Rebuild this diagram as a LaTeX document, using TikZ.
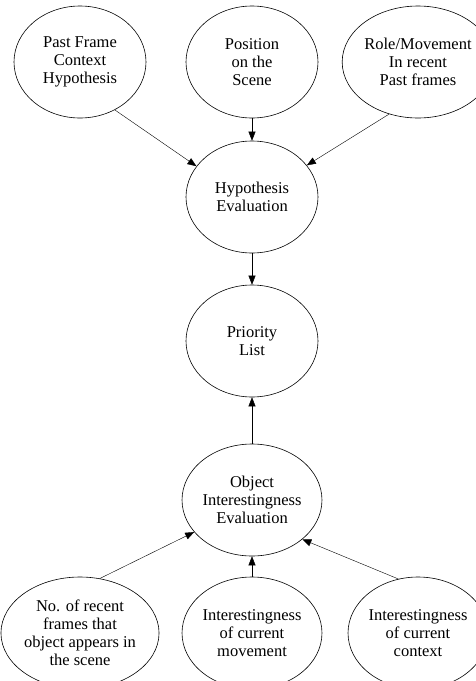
\documentclass[tikz,border=0pt]{standalone}
\usepackage{fontspec}
\setmainfont{Liberation Serif}
\usetikzlibrary{shapes.geometric,positioning,arrows.meta}
\tikzset{
x=1pt, y=-1pt,
->,
>={Triangle[length=9pt,width=7pt]},
line width=0.8pt,
factor/.style={ellipse, draw, line width=0.6pt, minimum width=132pt,
  minimum height=112pt, inner sep=0pt, align=center,
  font=\fontsize{16.5}{18}\selectfont},
}

\begin{document}
\begin{tikzpicture}
    \useasboundingbox[fill=white] (0,0) rectangle (476,681);

    \node[factor] (hyp) at (252,197) {Hypothesis\\Evaluation};
    \node[factor,above of=hyp,node distance=135pt] (pos) {Position\\on the\\Scene};
    \node[factor,left of=pos,node distance=172pt] (past) {Past Frame\\Context\\Hypothesis};
    \node[factor,right of=pos,node distance=166pt] (role) {Role/Movement\\In recent\\Past frames};
    \node[factor,below of=hyp,node distance=144pt] (prio) {Priority\\List};
    \node[factor,below of=prio,node distance=159pt] (obj) {Object\\Interestingness\\Evaluation};
    \node[factor,below of=obj,node distance=133pt] (mov) {Interestingness\\of current\\movement};
    \node[factor,left of=mov,node distance=172pt] (recent) {No. of recent\\frames that\\object appears in\\the scene};
    \node[factor,right of=mov,node distance=166pt] (ctx) {Interestingness\\of current\\context};

    \draw (past.-54) -- (hyp.151);
    \draw (pos) -- (hyp);
    \draw (role.-119) -- (hyp.30);
    \draw (hyp) -- (prio);
    \draw (obj) -- (prio);
    \draw (recent.70) -- (obj.-151);
    \draw (mov) -- (obj);
    \draw (ctx.110) -- (obj.-38);

\end{tikzpicture}
\end{document}
